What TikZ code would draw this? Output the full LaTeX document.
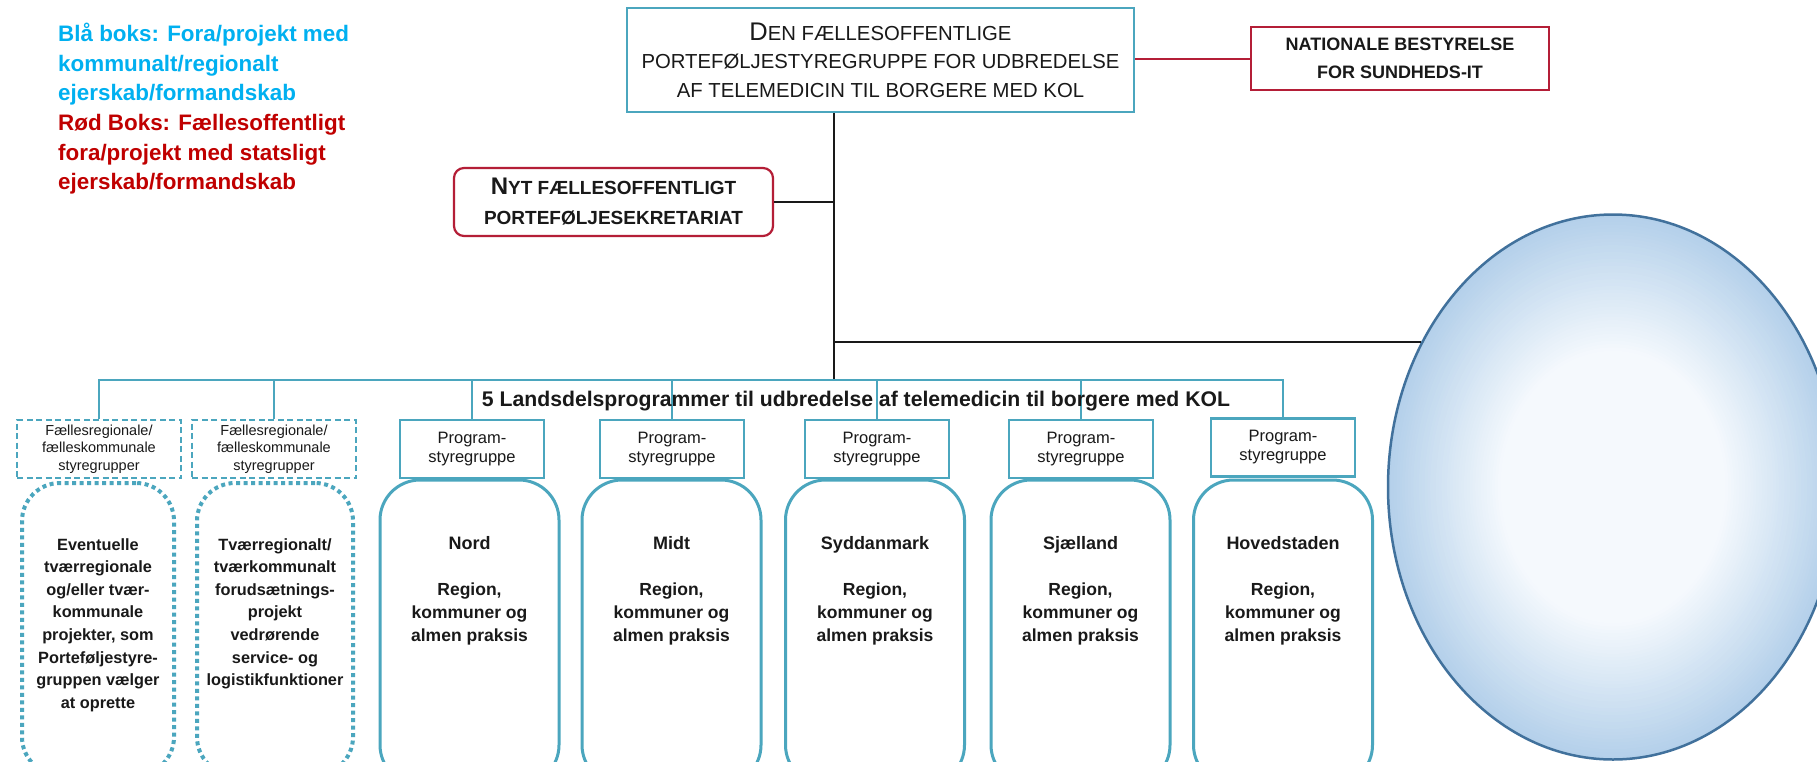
\documentclass[tikz,border=0pt]{standalone}
\usepackage{fontspec}
\setmainfont{Liberation Sans}
\usetikzlibrary{shapes.geometric}

\definecolor{aqua}{RGB}{75,166,190}
\definecolor{crimson}{RGB}{180,30,55}
\definecolor{legblue}{RGB}{0,176,240}
\definecolor{legred}{RGB}{192,0,0}
\definecolor{ink}{RGB}{25,25,25}
\definecolor{bubin}{RGB}{245,249,253}
\definecolor{bubout}{RGB}{180,208,234}
\definecolor{bubrim}{RGB}{65,113,156}

\newcommand\setfs[2]{\fontsize{#1}{#2}\selectfont}
\newcommand\initcap[2]{{\fontsize{#1}{#1}\selectfont #2}}

\tikzset{
  topbox/.style={draw=aqua, line width=2.5pt, rectangle, inner sep=0pt, text=ink, align=center},
  redbox/.style={draw=crimson, line width=2.2pt, rectangle, inner sep=0pt, text=ink, align=center},
  progbox/.style={draw=aqua, line width=2.5pt, rectangle, inner sep=0pt, text=ink, align=center,
    minimum width=144pt, minimum height=58pt, font=\setfs{16.5}{19}},
  dashbox/.style={draw=aqua, line width=1.8pt, dash pattern=on 6pt off 3.5pt, rectangle, inner sep=0pt,
    text=ink, align=center, minimum width=164pt, minimum height=58pt, font=\setfs{14.5}{17.5}},
  dotbox/.style={draw=aqua, line width=4pt, dash pattern=on 4pt off 3.5pt, rectangle,
    rounded corners=38pt, inner sep=0pt, minimum height=292pt},
  regionbox/.style={draw=aqua, line width=3pt, rectangle, rounded corners=40pt, inner sep=0pt,
    minimum width=179pt, minimum height=305pt},
  boxtext/.style={text=ink, align=center, inner sep=0pt, font=\bfseries\setfs{16.3}{22.6}},
  regname/.style={text=ink, inner sep=0pt, anchor=base, font=\bfseries\setfs{18}{22}},
  regdesc/.style={text=ink, align=center, inner sep=0pt, anchor=north, font=\bfseries\setfs{17.5}{22.6}},
  aqualine/.style={draw=aqua, line width=2pt},
  blackline/.style={draw=ink, line width=1.6pt},
  redline/.style={draw=crimson, line width=2pt}
}

\begin{document}
\begin{tikzpicture}[x=1pt,y=-1pt]
\useasboundingbox (0,0) rectangle (1817,761);
\fill[white] (0,0) rectangle (1817,761);
\clip (0,0) rectangle (1817,761);

% legend
\node[anchor=north west, inner sep=0pt, align=left, font=\bfseries\setfs{22.4}{29.6}] (legend) at (58,23)
  {\textcolor{legblue}{Blå boks: Fora/projekt med}\\
   \textcolor{legblue}{kommunalt/regionalt}\\
   \textcolor{legblue}{ejerskab/formandskab}\\
   \textcolor{legred}{Rød Boks: Fællesoffentligt}\\
   \textcolor{legred}{fora/projekt med statsligt}\\
   \textcolor{legred}{ejerskab/formandskab}};

% steering level
\node[topbox, minimum width=507pt, minimum height=104pt, font=\setfs{20.3}{28.5}] (top) at (880.5,60)
  {\initcap{25.5}{D}EN FÆLLESOFFENTLIGE\\PORTEFØLJESTYREGRUPPE FOR UDBREDELSE\\AF TELEMEDICIN TIL BORGERE MED KOL};
\node[redbox, minimum width=298pt, minimum height=63pt, font=\bfseries\setfs{18}{28}] (nat) at (1400,58.5)
  {NATIONALE BESTYRELSE\\FOR SUNDHEDS-IT};
\node[redbox, rounded corners=10pt, minimum width=319pt, minimum height=68pt, font=\bfseries\setfs{19}{30}] (nyt) at (613.5,202)
  {\initcap{24}{N}YT FÆLLESOFFENTLIGT\\PORTEFØLJESEKRETARIAT};

% bubble: radial fade from pale centre to light blue rim
\foreach \k in {0,...,40} {
  \pgfmathsetmacro\fac{1-\k/40*0.5}
  \pgfmathtruncatemacro\pct{100*(1-\k/40)}
  \fill[bubout!\pct!bubin] (1613,487) ellipse [x radius={225*\fac}, y radius={272.5*\fac}];
}
\node[ellipse, draw=bubrim, line width=2.5pt, minimum width=450pt, minimum height=545pt, inner sep=0pt] (bubble) at (1613,487) {};

% program level
\node[dashbox] (fb1) at (99,449) {Fællesregionale/\\fælleskommunale\\styregrupper};
\node[dashbox] (fb2) at (274,449) {Fællesregionale/\\fælleskommunale\\styregrupper};
\node[progbox] (pA) at (472,449) {Program-\\styregruppe};
\node[progbox] (pB) at (672,449) {Program-\\styregruppe};
\node[progbox] (pC) at (877,449) {Program-\\styregruppe};
\node[progbox] (pD) at (1081,449) {Program-\\styregruppe};
\node[progbox] (pE) at (1283,447.5) {Program-\\styregruppe};

% project boxes
\node[dotbox, minimum width=152pt] (d1) at (98,629) {};
\node[dotbox, minimum width=156pt] (d2) at (275,629) {};
\node[boxtext, anchor=north] (d1t) at (98,538)
  {Eventuelle\\tværregionale\\og/eller tvær-\\kommunale\\projekter, som\\Porteføljestyre-\\gruppen vælger\\at oprette};
\node[boxtext, anchor=north] (d2t) at (275,538)
  {Tværregionalt/\\tværkommunalt\\forudsætnings-\\projekt\\vedrørende\\service- og\\logistikfunktioner};

% regional programmes
\node[regionbox] (rA) at (469.5,632.5) {};
\node[regionbox] (rB) at (671.5,632.5) {};
\node[regionbox] (rC) at (875,632.5) {};
\node[regionbox] (rD) at (1080.5,632.5) {};
\node[regionbox] (rE) at (1283,632.5) {};
\node[regname] (nA) at (469.5,549) {Nord};
\node[regname] (nB) at (671.5,549) {Midt};
\node[regname] (nC) at (875,549) {Syddanmark};
\node[regname] (nD) at (1080.5,549) {Sjælland};
\node[regname] (nE) at (1283,549) {Hovedstaden};
\node[regdesc] (tA) at (469.5,583) {Region,\\kommuner og\\almen praksis};
\node[regdesc] (tB) at (671.5,583) {Region,\\kommuner og\\almen praksis};
\node[regdesc] (tC) at (875,583) {Region,\\kommuner og\\almen praksis};
\node[regdesc] (tD) at (1080.5,583) {Region,\\kommuner og\\almen praksis};
\node[regdesc] (tE) at (1283,583) {Region,\\kommuner og\\almen praksis};

% connectors
\coordinate (spine) at (834,0);
\coordinate (bar) at (0,380);
\draw[redline] (nat.west -| top.east) -- (nat.west);
\draw[blackline] (top.south -| spine) -- (spine |- bar);
\draw[blackline] (nyt.east) -- (nyt.east -| spine);
\draw[blackline, line width=2pt] (spine |- bubble.143.5) -- (bubble.143.5);
\draw[aqualine] (fb1.north) -- (fb1.north |- bar) -| (pE.north);
\foreach \n in {fb2,pA,pB,pC,pD} \draw[aqualine] (\n.north) -- (\n.north |- bar);

% title over the connectors
\node[anchor=base, inner sep=0pt, text=ink, font=\bfseries\setfs{21.2}{24}] (title) at (856,406)
  {5 Landsdelsprogrammer til udbredelse af telemedicin til borgere med KOL};
\end{tikzpicture}
\end{document}
